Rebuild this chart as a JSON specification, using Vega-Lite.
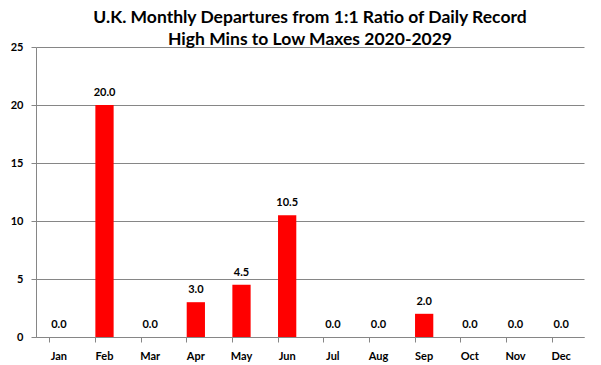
{
  "$schema": "https://vega.github.io/schema/vega-lite/v6.json",
  "width": 548,
  "height": 290,
  "autosize": "none",
  "padding": {"left": 36, "top": 47, "right": 17, "bottom": 28},
  "background": "white",
  "title": {
    "text": ["U.K. Monthly Departures from 1:1 Ratio of Daily Record", "High Mins to Low Maxes 2020-2029"],
    "font": "Lato",
    "fontSize": 17.5,
    "fontWeight": "bold",
    "color": "black",
    "anchor": "middle",
    "frame": "group",
    "lineHeight": 22,
    "offset": -7
  },
  "data": {
    "values": [
      {"month": "Jan", "value": 0.0},
      {"month": "Feb", "value": 20.0},
      {"month": "Mar", "value": 0.0},
      {"month": "Apr", "value": 3.0},
      {"month": "May", "value": 4.5},
      {"month": "Jun", "value": 10.5},
      {"month": "Jul", "value": 0.0},
      {"month": "Aug", "value": 0.0},
      {"month": "Sep", "value": 2.0},
      {"month": "Oct", "value": 0.0},
      {"month": "Nov", "value": 0.0},
      {"month": "Dec", "value": 0.0}
    ]
  },
  "encoding": {
    "x": {
      "field": "month",
      "type": "nominal",
      "sort": null,
      "scale": {"paddingInner": 0.6, "paddingOuter": 0.3},
      "axis": {
        "title": null,
        "labelAngle": 0,
        "labelFont": "Lato",
        "labelFontSize": 11,
        "labelFontWeight": "bold",
        "labelColor": "black",
        "labelPadding": 8,
        "bandPosition": 0,
        "tickSize": 5,
        "tickColor": "#868686",
        "domainColor": "#868686",
        "grid": false
      }
    },
    "y": {
      "field": "value",
      "type": "quantitative",
      "scale": {"domain": [0, 25]},
      "axis": {
        "title": null,
        "values": [0, 5, 10, 15, 20, 25],
        "labelFont": "Lato",
        "labelFontSize": 11,
        "labelFontWeight": "bold",
        "labelColor": "black",
        "labelPadding": 8,
        "tickSize": 5,
        "tickColor": "#868686",
        "domainColor": "#868686",
        "gridColor": "#868686",
        "grid": true
      }
    }
  },
  "layer": [
    {"mark": {"type": "bar", "color": "#ff0000"}},
    {
      "mark": {"type": "text", "baseline": "bottom", "dy": -7, "font": "Lato", "fontSize": 11, "fontWeight": "bold", "color": "black"},
      "encoding": {"text": {"field": "value", "type": "quantitative", "format": ".1f"}}
    }
  ],
  "config": {"view": {"stroke": null}}
}
